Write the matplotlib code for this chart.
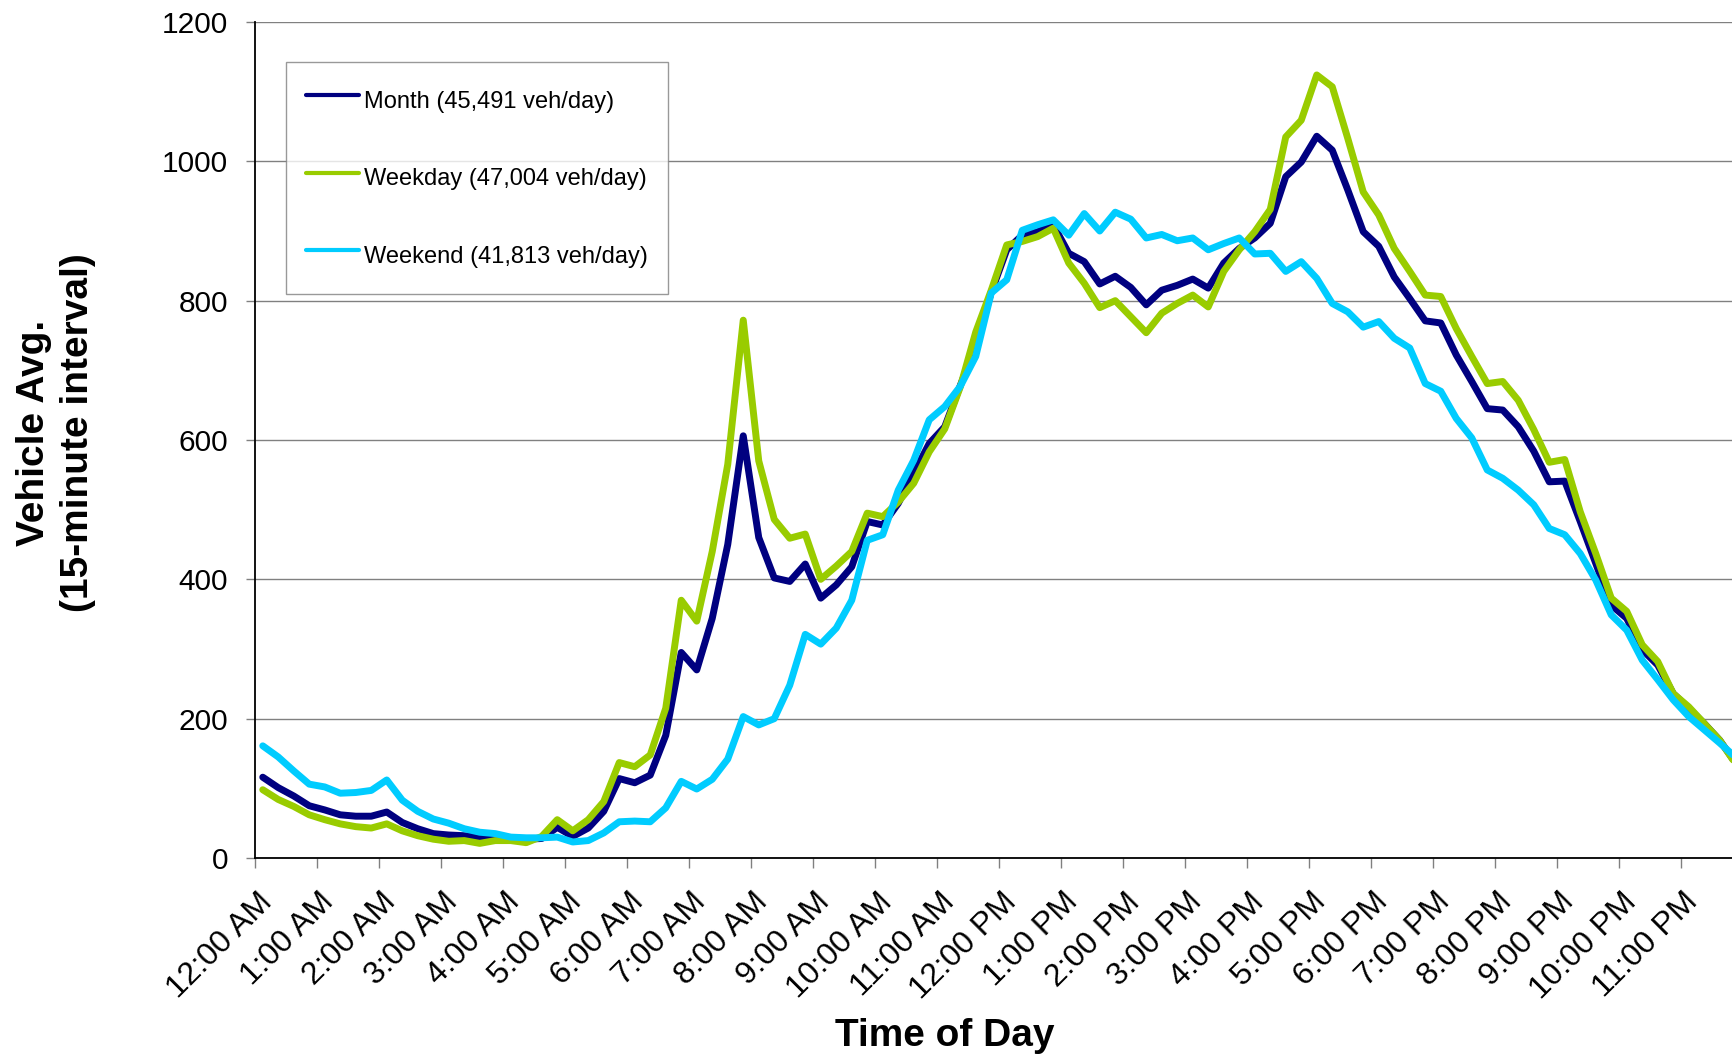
import numpy as np
import matplotlib
matplotlib.use("Agg")
import matplotlib.pyplot as plt
from matplotlib.transforms import ScaledTranslation

plt.rcParams["font.family"] = ["Liberation Sans", "DejaVu Sans"]

# hourly tick labels (one label every 4 quarter-hours)
HOUR_LABELS = ["12:00 AM"] + [f"{h}:00 AM" for h in range(1, 12)] + \
              ["12:00 PM"] + [f"{h}:00 PM" for h in range(1, 12)]

# 15-minute averages, 96 intervals
MONTH = [116, 101, 89, 75, 69, 62, 60, 60, 66, 51, 42, 35, 33, 32, 30, 29,
         29, 27, 28, 44, 31, 43, 67, 114, 108, 119, 176, 295, 270, 344, 450, 606,
         460, 402, 397, 422, 373, 392, 418, 483, 478, 509, 552, 595, 619, 678, 735, 812,
         873, 894, 899, 909, 868, 856, 824, 835, 819, 794, 815, 822, 831, 818, 854, 875,
         890, 911, 978, 999, 1036, 1016, 959, 899, 878, 834, 803, 771, 768, 722, 684, 645,
         643, 619, 584, 540, 541, 483, 423, 363, 344, 299, 277, 236, 215, 193, 169, 137]
WEEKDAY = [98, 84, 74, 62, 55, 49, 45, 43, 49, 39, 32, 27, 24, 25, 21, 25,
           25, 22, 31, 55, 39, 55, 81, 137, 131, 148, 215, 370, 340, 440, 565, 772,
           570, 486, 459, 465, 400, 419, 440, 495, 490, 511, 538, 583, 616, 676, 755, 815,
           880, 885, 892, 904, 854, 825, 790, 800, 777, 754, 782, 796, 808, 791, 842, 873,
           899, 931, 1035, 1059, 1124, 1107, 1033, 956, 923, 875, 842, 808, 806, 760, 720, 681,
           684, 657, 615, 568, 572, 497, 437, 373, 354, 306, 282, 236, 217, 193, 169, 136]
WEEKEND = [161, 145, 125, 106, 102, 93, 94, 97, 112, 83, 67, 56, 50, 42, 37, 35,
           30, 29, 29, 30, 23, 25, 36, 52, 53, 52, 72, 110, 99, 113, 142, 203,
           191, 200, 248, 321, 307, 330, 370, 456, 464, 528, 571, 629, 648, 677, 720, 811,
           830, 901, 909, 916, 894, 925, 900, 927, 917, 890, 895, 886, 890, 873, 882, 890,
           867, 868, 842, 856, 832, 796, 784, 762, 770, 746, 732, 681, 670, 631, 603, 557,
           545, 528, 507, 473, 464, 437, 399, 349, 327, 284, 256, 227, 203, 184, 165, 145]

SERIES = [
    ("Month (45,491 veh/day)", MONTH, "#000080"),
    ("Weekday (47,004 veh/day)", WEEKDAY, "#99CC00"),
    ("Weekend (41,813 veh/day)", WEEKEND, "#00CCFF"),
]

W, H = 1733, 1055
fig = plt.figure(figsize=(W / 100, H / 100), dpi=100)
# plot area runs a little past the right edge, as in the source image
ax = fig.add_axes([255 / W, 197 / H, 1488 / W, 836 / H])

x = np.arange(len(MONTH)) + 0.5
for name, vals, col in SERIES:
    ax.plot(x, vals, color=col, lw=5, label=name,
            solid_capstyle="round", solid_joinstyle="round")

ax.set_xlim(0, 96)
ax.set_ylim(0, 1200)
ax.set_yticks(range(0, 1201, 200))
ax.yaxis.grid(True, color="#808080", lw=1.0)
ax.set_axisbelow(True)
ax.set_xticks(np.arange(0, 96, 4))
ax.set_xticklabels(HOUR_LABELS, rotation=45, ha="right", va="top",
                   rotation_mode="anchor")
ax.tick_params(axis="x", length=7, width=1, color="#808080", pad=14, labelsize=23)
ax.tick_params(axis="y", length=6.5, width=1, color="#808080", pad=13, labelsize=21.5)
shift = ScaledTranslation(2 / 100, 0, fig.dpi_scale_trans)
for lbl in ax.get_xticklabels():
    lbl.set_transform(lbl.get_transform() + shift)

for s in ("top", "right"):
    ax.spines[s].set_visible(False)
for s in ("left", "bottom"):
    ax.spines[s].set_color("black")
    ax.spines[s].set_linewidth(1.3)

leg = ax.legend(loc="upper left", bbox_to_anchor=(286 / W, 1 - 62 / H),
                bbox_transform=fig.transFigure, fontsize=17, frameon=True,
                fancybox=False, edgecolor="#808080", handlelength=2.25,
                handleheight=2.0, handletextpad=0.19, labelspacing=1.74,
                borderpad=0.85, borderaxespad=0)
leg.get_frame().set_linewidth(1.0)
for ln in leg.get_lines():
    ln.set_linewidth(3)

fig.text(945 / W, 9 / H, "Time of Day", ha="center", va="baseline",
         fontsize=28, fontweight="bold")
fig.text(56 / W, 1 - 433 / H, "Vehicle Avg.\n(15-minute interval)", rotation=90,
         ha="center", va="center", multialignment="center", linespacing=1.3,
         fontsize=28, fontweight="bold")

fig.savefig("out.png", dpi=100)
